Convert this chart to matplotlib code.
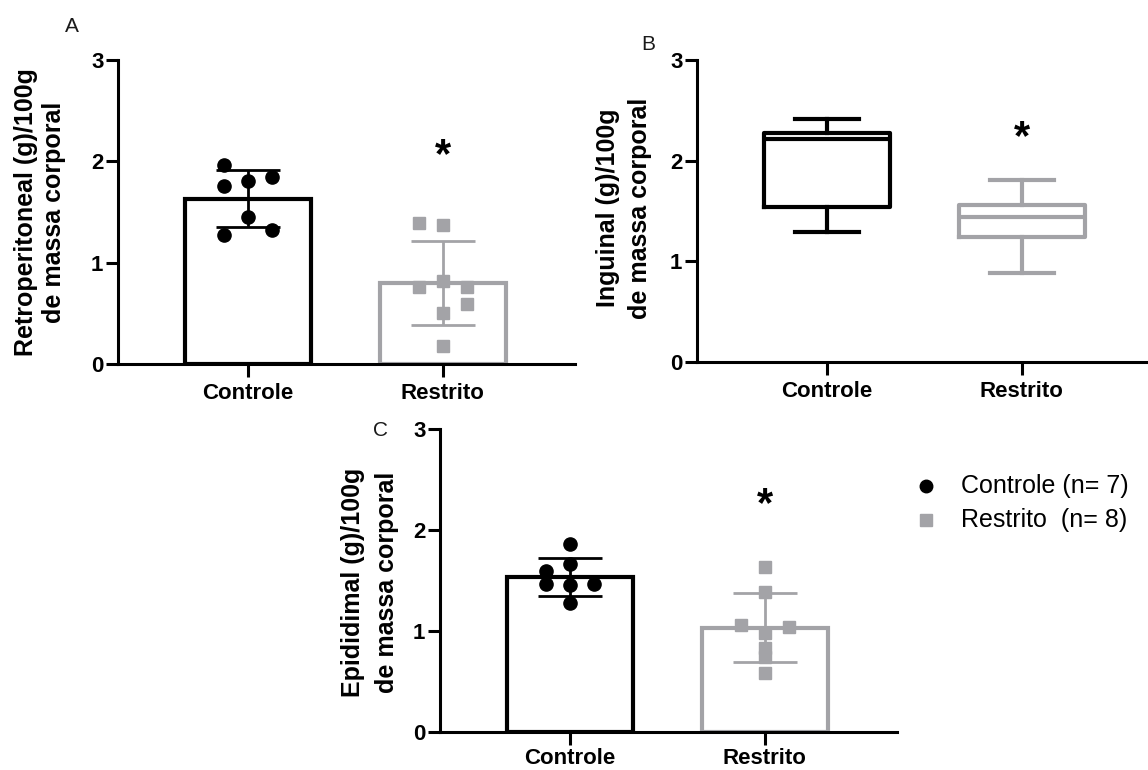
import matplotlib
matplotlib.use("Agg")
import matplotlib.pyplot as plt
from matplotlib.lines import Line2D
import numpy as np

plt.rcParams['font.family'] = ['Liberation Sans', 'DejaVu Sans']

# ---------------- data ----------------
groups = ["Controle", "Restrito"]

# Panel A: Retroperitoneal
retro_controle = [1.96, 1.76, 1.81, 1.85, 1.45, 1.27, 1.32]
retro_restrito = [1.39, 1.37, 0.76, 0.82, 0.76, 0.59, 0.50, 0.18]

# Panel B: Inguinal (box plot summary: min, q1, median, q3, max)
ing_controle = [1.29, 1.54, 2.22, 2.27, 2.41]
ing_restrito = [0.88, 1.24, 1.44, 1.56, 1.81]

# Panel C: Epididimal
epi_controle = [1.86, 1.66, 1.59, 1.46, 1.45, 1.46, 1.27]
epi_restrito = [1.63, 1.38, 1.06, 1.04, 0.98, 0.83, 0.74, 0.58]

legend_labels = ["Controle (n= 7)", "Restrito  (n= 8)"]
y_ticks = [0, 1, 2, 3]

# jitter columns (layout only)
jit_A_c = [-1, -1, 0, 1, 0, -1, 1]
jit_A_r = [-1, 0, -1, 0, 1, 1, 0, 0]
jit_C_c = [0, 0, -1, -1, 0, 1, 0]
jit_C_r = [0, 0, -1, 1, 0, 0, 0, 0]

BLACK = "#000000"
GREY = "#a3a3a7"
W, H = 1148, 770

fig = plt.figure(figsize=(W / 100, H / 100), dpi=100)


def px_axes(x0, x1, y0, y1):
    # x0,x1 = left/right pixel, y0 = pixel of y=0, y1 = pixel of y=3
    return fig.add_axes([x0 / W, 1 - y0 / H, (x1 - x0) / W, (y0 - y1) / H])


def style_axes(ax, xpad=5):
    ax.set_xlim(-0.667, 1.678)
    ax.set_ylim(0, 3)
    for s in ["top", "right"]:
        ax.spines[s].set_visible(False)
    for s in ["left", "bottom"]:
        ax.spines[s].set_linewidth(2.2)
        ax.spines[s].set_color(BLACK)
    ax.set_yticks(y_ticks)
    ax.set_xticks([0, 1])
    ax.set_xticklabels(groups)
    ax.tick_params(axis='y', length=8.5, width=2.2, direction='out', pad=2,
                   labelsize=16)
    ax.tick_params(axis='x', length=9, width=2.2, direction='out', pad=xpad,
                   labelsize=16)
    for lab in ax.get_xticklabels() + ax.get_yticklabels():
        lab.set_fontweight('bold')
    ax.patch.set_alpha(0)


def bar_panel(ax, data_c, data_r, jit_c, jit_r):
    for i, (vals, jit, col, mk) in enumerate([(data_c, jit_c, BLACK, 'o'),
                                              (data_r, jit_r, GREY, 's')]):
        v = np.array(vals)
        m = v.mean()
        sd = v.std(ddof=1)
        ax.bar(i, m, width=0.65, fill=False, edgecolor=col, linewidth=3,
               zorder=2)
        ax.errorbar(i, m, yerr=sd, fmt='none', ecolor=col, elinewidth=2,
                    capsize=23, capthick=2, zorder=3)
        xs = i + 0.125 * np.array(jit)
        ax.plot(xs, v, linestyle='none', marker=mk, color=col,
                markersize=9.5 if mk == 'o' else 8.8, zorder=4, clip_on=False)


def star(ax, x, y):
    ax.text(x, y, "*", ha='center', va='center', fontsize=30,
            fontweight='bold', color=BLACK)


# Panel A
axA = px_axes(118, 575, 364, 60)
bar_panel(axA, retro_controle, retro_restrito, jit_A_c, jit_A_r)
style_axes(axA)
star(axA, 1, 2.05)

# Panel B
axB = px_axes(697, 1154, 362, 60)
stats = []
for lab, s in zip(groups, [ing_controle, ing_restrito]):
    stats.append(dict(label=lab, whislo=s[0], q1=s[1], med=s[2], q3=s[3],
                      whishi=s[4], fliers=[]))
for i, (st, col) in enumerate(zip(stats, [BLACK, GREY])):
    axB.bxp([st], positions=[i], widths=0.65, capwidths=0.325,
            showfliers=False, manage_ticks=False,
            boxprops=dict(color=col, linewidth=3),
            whiskerprops=dict(color=col, linewidth=3),
            capprops=dict(color=col, linewidth=3),
            medianprops=dict(color=col, linewidth=3))
style_axes(axB)
star(axB, 1, 2.22)

# Panel C
axC = px_axes(440, 897, 731.7, 428.7)
bar_panel(axC, epi_controle, epi_restrito, jit_C_c, jit_C_r)
style_axes(axC, xpad=3)
star(axC, 1, 2.24)

# y labels
ylab_kw = dict(rotation=90, ha='center', va='center', fontsize=18,
               fontweight='bold')
fig.text(40 / W, 1 - 212 / H, "Retroperitoneal (g)/100g\nde massa corporal",
         linespacing=1.25, **ylab_kw)
fig.text(624 / W, 1 - 208 / H, "Inguinal (g)/100g\nde massa corporal",
         linespacing=1.4, **ylab_kw)
fig.text(370 / W, 1 - 582 / H, "Epididimal (g)/100g\nde massa corporal",
         linespacing=1.5, **ylab_kw)

# panel letters
for lt, x, y in [("A", 72, 27), ("B", 648, 45), ("C", 381, 430)]:
    fig.text(x / W, 1 - y / H, lt, ha='center', va='center', fontsize=15,
             color='#1a1a1a')

# legend
for (lab, col, mk, y) in [(legend_labels[0], BLACK, 'o', 486),
                          (legend_labels[1], GREY, 's', 520)]:
    fig.add_artist(Line2D([926 / W], [1 - y / H], marker=mk, color=col,
                          markersize=9 if mk == 'o' else 8.5,
                          linestyle='none', transform=fig.transFigure))
    fig.text(961 / W, 1 - y / H, lab, ha='left', va='center', fontsize=18,
             color=BLACK)

fig.savefig("out.png", dpi=100)
